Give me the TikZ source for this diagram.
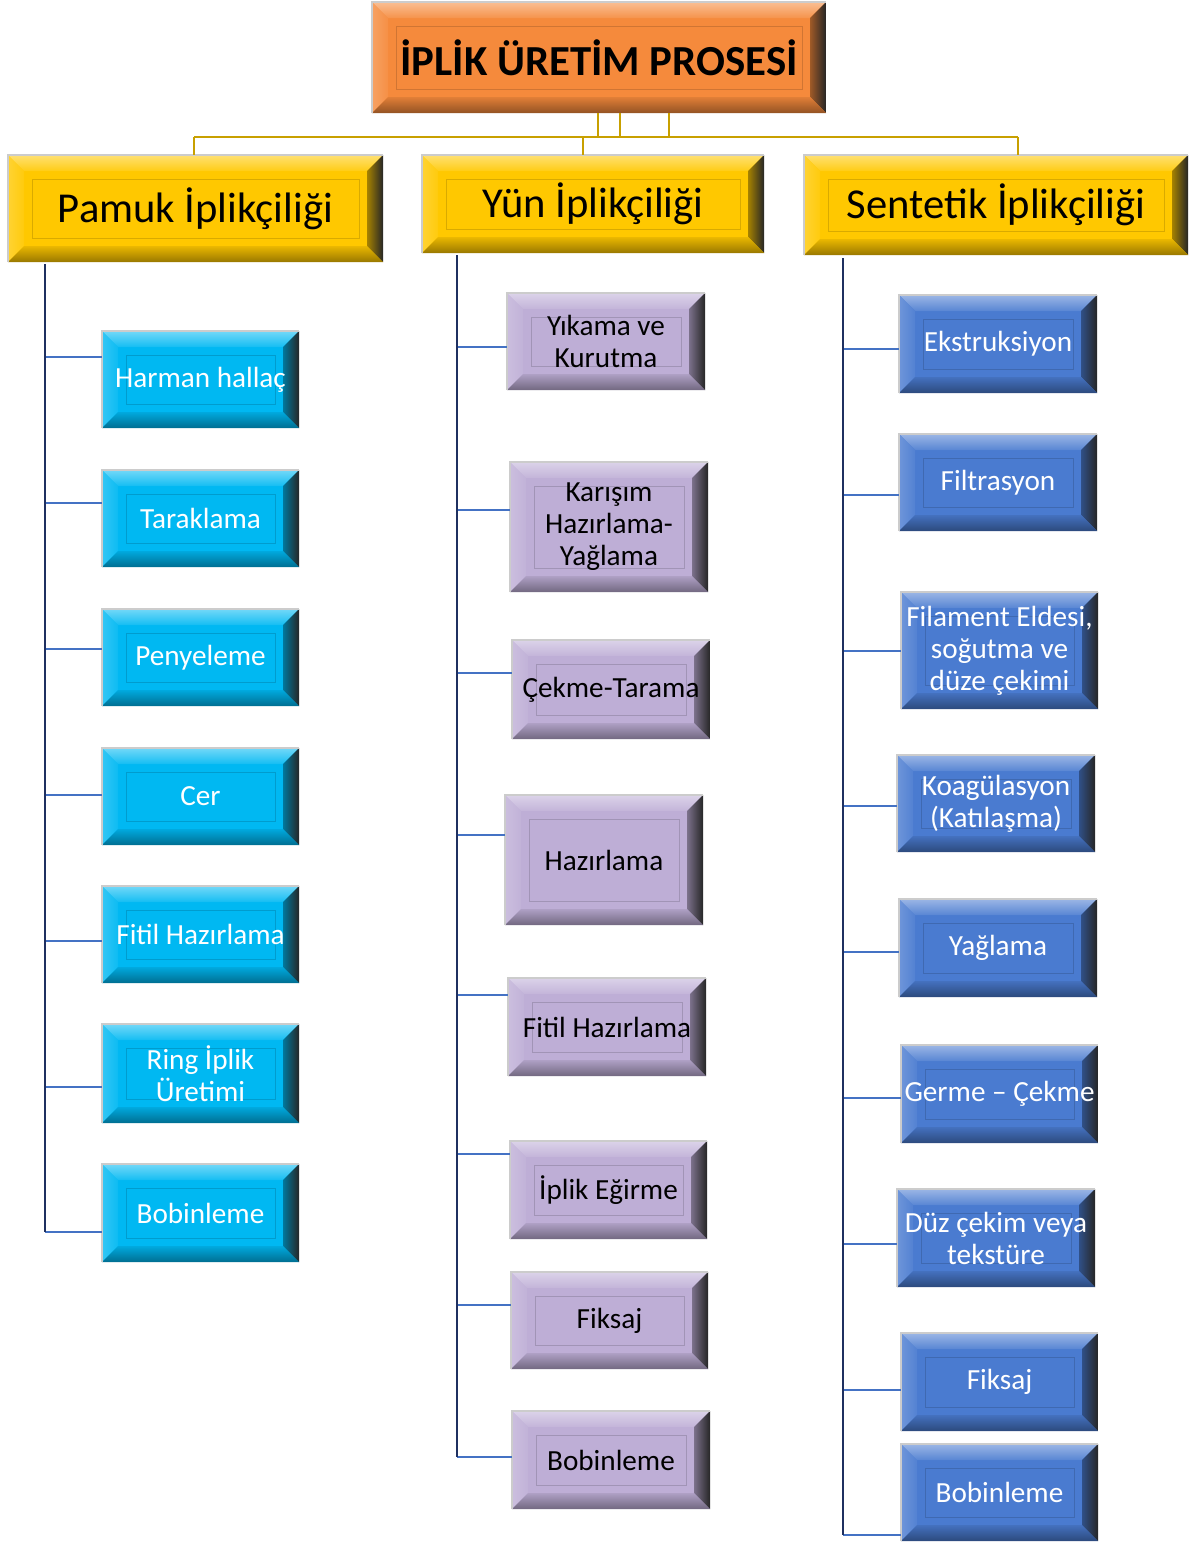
\documentclass[tikz,border=0pt]{standalone}
\usepackage{fontspec}
\setmainfont{Carlito}
\usetikzlibrary{calc}
\definecolor{cyanC}{HTML}{00B8F2}
\definecolor{purpC}{HTML}{BEAED6}
\definecolor{blueC}{HTML}{4A7BD0}
\definecolor{goldC}{HTML}{FFC800}
\definecolor{orangC}{HTML}{F58A3C}
\definecolor{lineGold}{HTML}{C8A000}
\definecolor{spineC}{HTML}{1F3060}
\definecolor{branchC}{HTML}{4472C4}
\tikzset{
  tw/.style={text=white, font=\fontsize{14.6}{16}\selectfont},
  tb/.style={text=black, font=\fontsize{14.6}{16}\selectfont},
  th/.style={text=black, font=\fontsize{21.3}{25}\selectfont},
  tt/.style={text=black, font=\bfseries\fontsize{21.4}{25}\selectfont},
  goldline/.style={draw=lineGold, line width=1.4pt},
  spine/.style={draw=spineC, line width=1.3pt},
  branch/.style={draw=branchC, line width=1.2pt},
}
% #1 name, #2 x1, #3 y1, #4 x2, #5 y2, #6 colour, #7 text style, #8 text
\newcommand\bbox[8]{%
  \fill[#6] (#2,#3) rectangle (#4,#5);
  \shade[top color=#6!55!white, bottom color=#6!92!white] (#2,#3) -- (#4,#3) -- (#4-16,#3+16) -- (#2+16,#3+16) -- cycle;
  \shade[left color=#6!80!white, right color=#6!95!white] (#2,#3) -- (#2+16,#3+16) -- (#2+16,#5-16) -- (#2,#5) -- cycle;
  \shade[left color=#6!65!black, right color=black!85] (#4,#3) -- (#4,#5) -- (#4-16,#5-16) -- (#4-16,#3+16) -- cycle;
  \shade[top color=#6!92!black, bottom color=#6!60!black] (#2,#5) -- (#4,#5) -- (#4-16,#5-16) -- (#2+16,#5-16) -- cycle;
  \draw[#6!85!black, line width=0.5pt] (#2+24,#3+24) rectangle (#4-24,#5-24);
  \draw[black!20, line width=0.7pt] (#2,#5) -- (#2,#3) -- (#4,#3);
  \pgfmathsetmacro\bbw{(#4-#2)*0.5}%
  \pgfmathsetmacro\bbh{(#5-#3)*0.5}%
  \node[minimum width=\bbw pt, minimum height=\bbh pt, inner sep=0pt, align=center, #7] (#1) at ({(#2+#4)/2},{(#3+#5)/2}) {#8};
}
\begin{document}
\begin{tikzpicture}[x=0.5pt,y=-0.5pt]
\useasboundingbox (0,0) rectangle (1192,1543);

% top connectors
\coordinate (k1) at (598,137);
\coordinate (k2) at (620,137);
\coordinate (k3) at (669,137);
\coordinate (hl) at (194,137);
\coordinate (hm) at (583,137);
\coordinate (hr) at (1018,137);

% boxes
\bbox{title}{372}{2}{826}{113}{orangC}{tt}{İPLİK ÜRETİM PROSESİ}
\bbox{pamuk}{8}{155}{383}{262}{goldC}{th}{Pamuk İplikçiliği}
\bbox{yun}{422}{155}{764}{253}{goldC}{th}{Yün İplikçiliği}
\bbox{sent}{804}{155}{1188}{255}{goldC}{th}{Sentetik İplikçiliği}

\draw[goldline] (k1 |- title.south) -- (k1);
\draw[goldline] (k2 |- title.south) -- (k2);
\draw[goldline] (k3 |- title.south) -- (k3);
\draw[goldline] (hl) -- (hr);
\draw[goldline] (hl) -- (hl |- pamuk.north);
\draw[goldline] (hm) -- (hm |- yun.north);
\draw[goldline] (hr) -- (hr |- sent.north);

% cyan column
\bbox{c1}{102}{331}{299}{428}{cyanC}{tw}{Harman hallaç}
\bbox{c2}{102}{470}{299}{567}{cyanC}{tw}{Taraklama}
\bbox{c3}{102}{609}{299}{706}{cyanC}{tw}{Penyeleme}
\bbox{c4}{102}{748}{299}{845}{cyanC}{tw}{Cer}
\bbox{c5}{102}{886}{299}{983}{cyanC}{tw}{Fitil Hazırlama}
\bbox{c6}{102}{1024}{299}{1123}{cyanC}{tw}{Ring İplik\\Üretimi}
\bbox{c7}{102}{1164}{299}{1262}{cyanC}{tw}{Bobinleme}

% purple column
\bbox{p1}{507}{293}{705}{390}{purpC}{tb}{Yıkama ve\\Kurutma}
\bbox{p2}{510}{462}{708}{592}{purpC}{tb}{Karışım\\Hazırlama-\\Yağlama}
\bbox{p3}{512}{640}{710}{739}{purpC}{tb}{Çekme-Tarama}
\bbox{p4}{505}{795}{703}{925}{purpC}{tb}{Hazırlama}
\bbox{p5}{508}{978}{706}{1076}{purpC}{tb}{Fitil Hazırlama}
\bbox{p6}{510}{1141}{707}{1239}{purpC}{tb}{İplik Eğirme}
\bbox{p7}{511}{1272}{708}{1369}{purpC}{tb}{Fiksaj}
\bbox{p8}{512}{1411}{710}{1509}{purpC}{tb}{Bobinleme}

% blue column
\bbox{b1}{899}{295}{1097}{393}{blueC}{tw}{Ekstruksiyon}
\bbox{b2}{899}{434}{1097}{531}{blueC}{tw}{Filtrasyon}
\bbox{b3}{901}{592}{1098}{709}{blueC}{tw}{Filament Eldesi,\\soğutma ve\\düze çekimi}
\bbox{b4}{897}{755}{1095}{852}{blueC}{tw}{Koagülasyon\\(Katılaşma)}
\bbox{b5}{899}{899}{1097}{997}{blueC}{tw}{Yağlama}
\bbox{b6}{901}{1045}{1098}{1143}{blueC}{tw}{Germe – Çekme}
\bbox{b7}{897}{1189}{1095}{1287}{blueC}{tw}{Düz çekim veya\\tekstüre}
\bbox{b8}{901}{1333}{1098}{1431}{blueC}{tw}{Fiksaj}
\bbox{b9}{901}{1444}{1098}{1541}{blueC}{tw}{Bobinleme}

% left spine and branches
\coordinate (L0) at (45,264);
\coordinate (L1) at (45,357);
\coordinate (L2) at (45,503);
\coordinate (L3) at (45,649);
\coordinate (L4) at (45,795);
\coordinate (L5) at (45,941);
\coordinate (L6) at (45,1087);
\coordinate (L7) at (45,1232);
\foreach \i in {1,...,7} {\draw[branch] (L\i) -- (L\i -| c\i.west);}
\draw[spine] (L0) -- (L7);

% middle spine and branches
\coordinate (M0) at (457,255);
\coordinate (M1) at (457,347);
\coordinate (M2) at (457,510);
\coordinate (M3) at (457,673);
\coordinate (M4) at (457,835);
\coordinate (M5) at (457,995);
\coordinate (M6) at (457,1154);
\coordinate (M7) at (457,1305);
\coordinate (M8) at (457,1457);
\foreach \i in {1,...,8} {\draw[branch] (M\i) -- (M\i -| p\i.west);}
\draw[spine] (M0) -- (M8);

% right spine and branches
\coordinate (R0) at (843,258);
\coordinate (R1) at (843,349);
\coordinate (R2) at (843,495);
\coordinate (R3) at (843,651);
\coordinate (R4) at (843,806);
\coordinate (R5) at (843,952);
\coordinate (R6) at (843,1098);
\coordinate (R7) at (843,1244);
\coordinate (R8) at (843,1390);
\coordinate (R9) at (843,1535);
\foreach \i in {1,...,9} {\draw[branch] (R\i) -- (R\i -| b\i.west);}
\draw[spine] (R0) -- (R9);
\end{tikzpicture}
\end{document}
